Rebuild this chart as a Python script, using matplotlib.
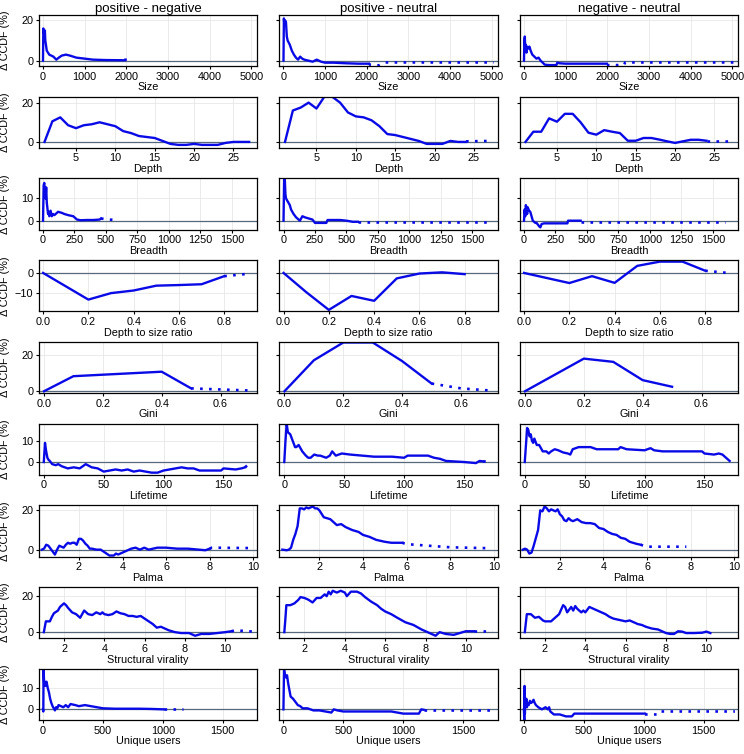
import matplotlib
matplotlib.use("Agg")
import matplotlib.pyplot as plt

plt.rcParams['font.family'] = ['Liberation Sans', 'DejaVu Sans']

comparisons = ["positive - negative", "positive - neutral", "negative - neutral"]
metrics = ["Size", "Depth", "Breadth", "Depth to size ratio", "Gini",
           "Lifetime", "Palma", "Structural virality", "Unique users"]

# --- Size ---
size_pn = [(0, 0), (8, 16), (15, 14), (25, 15), (35, 12), (45, 15), (55, 10), (70, 8),
           (90, 5), (120, 4), (150, 3), (200, 2.5), (250, 2), (320, 0.5), (380, 1.5),
           (450, 2.5), (550, 3), (650, 2.5), (800, 1.5), (1000, 1), (1200, 0.5),
           (1500, 0.3), (1950, 0.2)]
size_pn_dot = [(1950, 0.4), (2060, 0.6)]
size_pu = [(0, 0), (10, 21), (20, 18), (40, 20), (60, 19), (80, 12), (100, 10), (150, 8),
           (200, 5), (250, 3), (300, 1.5), (350, 0.5), (400, 2), (450, 1), (500, 0.5),
           (600, 0), (700, -0.5), (800, 0.5), (900, -0.5), (1000, -1), (1200, -1),
           (1500, -1.3), (1800, -1.5), (2050, -1.5)]
size_pu_dot = [(2050, -1.5), (2100, -2.3), (2300, -2.3), (2450, -0.9), (3500, -0.9),
               (5050, -0.9)]
size_nu = [(0, 0), (10, 10), (20, 12), (30, 6), (40, 8), (60, 4), (80, 7), (100, 6),
           (130, 7), (160, 5), (200, 3), (250, 2), (300, 1), (350, 1.5), (400, 0),
           (450, -1), (500, -2), (600, -2.2), (780, -2.2), (800, -1), (850, -1.3),
           (1000, -1.5), (1500, -1.5), (1990, -1.5)]
size_nu_dot = [(1990, -2.2), (2400, -2.2), (2430, -0.9), (5050, -0.9)]

# --- Depth ---
depth_pn = [(1, 0), (2, 10.5), (3, 12.5), (4, 8.5), (5, 7), (6, 8.5), (7, 9), (8, 10),
            (9, 9), (10, 8), (11, 5.5), (12, 4.5), (13, 3), (14, 2.5), (15, 2), (16, 0.5),
            (17, -1), (18, -1.5), (19, -1.5), (20, -1), (21, -1.5), (22, -1.5),
            (23, -1.5), (24, -0.5), (25, 0), (26, 0), (27, 0)]
depth_pn_dot = []
depth_pu = [(1, 0), (2, 16), (3, 17.5), (4, 20), (5, 17), (6, 23), (7, 23), (8, 20),
            (9, 15), (10, 13), (11, 12.5), (12, 11), (13, 8), (14, 4), (15, 3.5),
            (16, 2.5), (17, 1.5), (18, 0.5), (19, -1), (20, -1), (21, -1), (22, 0.5),
            (23, 0), (24, 0)]
depth_pu_dot = [(24, 0.3), (27, 0.5)]
depth_nu = [(1, 0), (2, 5.2), (3, 5.2), (4, 12), (5, 10.3), (6, 14.3), (7, 14.3),
            (8, 10), (9, 4.7), (10, 3.7), (11, 6), (12, 5.2), (13, 4.5), (14, 0.6),
            (15, 0.6), (16, 2), (17, 2), (18, 1.2), (19, 0.3), (20, -0.5), (21, 0.3),
            (22, 1.1), (23, 1.1), (24, 0.6)]
depth_nu_dot = [(24, 0.6), (27, 0.6)]

# --- Breadth ---
breadth_pn = [(0, 0), (5, 16), (10, 17), (15, 12), (20, 10), (25, 15), (30, 8), (40, 3),
              (45, 4), (50, 2), (60, 4.5), (70, 2), (80, 3), (90, 2.5), (100, 3),
              (120, 4), (150, 3.5), (170, 3), (200, 2.5), (240, 2), (270, 0.5),
              (300, 0.2), (350, 0.3), (400, 0.3), (450, 0.5), (460, 1)]
breadth_pn_dot = [(460, 1), (500, 0.6), (580, 0.3)]
breadth_pu = [(0, 0), (5, 19), (10, 19), (15, 12), (20, 10), (30, 9), (40, 8), (50, 7),
              (60, 5), (80, 3), (100, 1.5), (120, 0.5), (130, 0), (150, 2), (170, 1.5),
              (200, 1), (230, 0.5), (250, -1), (300, -1), (340, -1), (350, 0.3),
              (400, 0.3), (450, 0.3), (500, 0), (550, -0.5), (590, -0.5)]
breadth_pu_dot = [(590, -0.5), (1620, -0.5)]
breadth_nu = [(0, 0), (5, 5), (10, 2), (15, 7), (20, 5), (25, 3), (30, 6), (40, 4.5),
              (50, 4), (60, 2), (70, 0), (80, -0.5), (90, -1), (100, -1), (120, -2.5),
              (130, -3), (140, -1.5), (160, -1.2), (250, -1.2), (345, -1.2), (350, 0),
              (450, 0)]
breadth_nu_dot = [(450, -0.5), (1600, -0.5)]

# --- Depth to size ratio ---
dsr_pn = [(0, 0), (0.2, -13.2), (0.3, -10), (0.4, -8.7), (0.5, -6.3), (0.6, -6),
          (0.7, -5.6), (0.8, -1.6)]
dsr_pn_dot = [(0.8, -1.6), (0.9, -0.5)]
dsr_pu = [(0, 0), (0.1, -9.5), (0.2, -18.3), (0.3, -11.4), (0.4, -13.8), (0.5, -2.7),
          (0.6, -0.3), (0.7, 0.3), (0.8, -0.6)]
dsr_pu_dot = []
dsr_nu = [(0, 0), (0.2, -5), (0.3, -1.6), (0.4, -4.9), (0.5, 3.5), (0.6, 5.6),
          (0.7, 5.6), (0.8, 1.1)]
dsr_nu_dot = [(0.8, 1.1), (0.9, 0)]

# --- Gini ---
gini_pn = [(0, 0), (0.1, 8.4), (0.4, 10.9), (0.5, 1.6)]
gini_pn_dot = [(0.5, 1.6), (0.7, 0.4)]
gini_pu = [(0, 0), (0.1, 17.3), (0.2, 27.2), (0.3, 27.2), (0.4, 16.8), (0.5, 4.3)]
gini_pu_dot = [(0.5, 4.3), (0.6, 1.6), (0.7, 0.4)]
gini_nu = [(0, 0), (0.2, 18.2), (0.3, 16.4), (0.4, 6.2), (0.5, 2.5)]
gini_nu_dot = []

# --- Lifetime ---
life_pn = [(0, 0), (1, 9), (2, 5), (3, 2), (4, 1), (5, 0.5), (7, -1), (10, -1.5),
           (12, -1), (15, -2), (20, -3), (25, -2.5), (30, -3), (35, -1), (40, -2.5),
           (45, -3), (50, -4.5), (55, -4), (60, -3.5), (65, -4), (70, -3.5), (75, -4.5),
           (80, -4), (90, -5), (95, -5), (100, -4), (105, -3.5), (110, -3), (115, -2.5),
           (120, -3), (125, -3), (130, -4), (148, -4), (150, -3), (160, -3.5),
           (165, -3), (168, -2.5)]
life_pn_dot = [(168, -2.5), (172, -0.5)]
life_pu = [(0, 0), (1, 10), (2, 18), (3, 14), (5, 13), (7, 10), (9, 7), (10, 7),
           (12, 8), (15, 5), (18, 3), (20, 2), (22, 2), (25, 3.5), (28, 3), (30, 3),
           (35, 2), (38, 3), (40, 5), (43, 3), (48, 4), (55, 3.5), (65, 3), (75, 2.5),
           (90, 2.5), (100, 2), (103, 3), (120, 3), (125, 2), (130, 1.5), (135, 0.5),
           (150, 0), (160, -0.5), (163, 0.5), (166, 0.3)]
life_pu_dot = [(166, 0.3), (172, 0)]
life_nu = [(0, 0), (1, 8), (2, 16), (3, 15), (4, 12), (5, 13), (6, 10), (7, 9),
           (8, 11), (10, 8), (12, 8), (15, 5), (18, 5), (20, 4), (22, 5), (25, 6),
           (28, 5.5), (32, 4.5), (36, 4), (38, 3.5), (40, 6), (45, 7), (55, 7),
           (60, 6), (78, 6), (80, 7), (85, 6), (100, 5.5), (105, 6.5), (108, 5.5),
           (115, 5), (148, 5), (150, 4), (158, 3.5), (162, 4), (165, 3.5), (168, 2),
           (171, 0.5)]
life_nu_dot = []

# --- Palma ---
palma_pn = [(0.3, 0), (0.4, 0.5), (0.5, 2.5), (0.6, 2), (0.7, 0.5), (0.8, -1),
            (0.9, -2.5), (1.0, 0), (1.1, 2), (1.2, 1.5), (1.3, 1), (1.4, 2.5),
            (1.5, 3.5), (1.6, 3), (1.7, 3.5), (1.8, 3.5), (1.9, 2.5), (2.0, 5.5),
            (2.1, 5.5), (2.2, 4.5), (2.3, 3), (2.4, 2), (2.5, 0.5), (2.6, 0.5),
            (2.8, 0), (3.0, 0), (3.2, -1.5), (3.4, -3), (3.6, -3), (3.7, -2),
            (3.8, -2.5), (4.0, -1.5), (4.2, -0.5), (4.4, 0.5), (4.6, 1), (4.8, 0),
            (5.0, 1), (5.2, 0), (5.4, 0.5), (5.6, 1), (6.0, 1), (6.5, 0.5), (7.0, 0.5),
            (7.5, 0), (7.8, -0.3), (8.0, 0.5)]
palma_pn_dot = [(8.0, 0.5), (8.1, 1), (9.9, 0.8)]
palma_pu = [(0.3, 0), (0.5, -0.3), (0.6, 0), (0.7, 1), (0.8, 5), (0.9, 8), (1.0, 12),
            (1.1, 21), (1.2, 21), (1.3, 20.5), (1.4, 21.5), (1.5, 21), (1.6, 21.5),
            (1.7, 22), (1.8, 21), (1.9, 21), (2.0, 20), (2.2, 16.5), (2.5, 15.5),
            (2.8, 12.5), (3.0, 13), (3.2, 11.5), (3.5, 10), (3.8, 9), (4.0, 7.5),
            (4.3, 6.5), (4.6, 5), (5.0, 4), (5.3, 3.5), (5.8, 3.5)]
palma_pu_dot = [(5.8, 3.5), (6.0, 2.8), (7.0, 2), (8.0, 1.2), (9.9, 0.7)]
palma_nu = [(0.3, 0), (0.4, 0.5), (0.5, 0), (0.6, -2), (0.7, -1.5), (0.8, 2), (0.9, 6),
            (1.0, 10), (1.1, 20), (1.2, 19.5), (1.3, 22), (1.4, 21), (1.5, 19.5),
            (1.6, 20.5), (1.7, 20), (1.8, 19.5), (1.9, 20.5), (2.0, 18), (2.1, 17),
            (2.2, 15), (2.3, 14.5), (2.4, 16), (2.5, 15), (2.6, 14.5), (2.8, 15.5),
            (3.0, 14), (3.2, 13.5), (3.4, 13.5), (3.6, 13), (3.8, 11), (4.0, 10.5),
            (4.2, 9), (4.4, 8), (4.6, 7.5), (4.8, 6), (5.0, 5.5), (5.2, 4), (5.5, 3),
            (5.7, 2.5)]
palma_nu_dot = [(5.7, 2.5), (6.0, 1.5), (7.8, 1.5)]

# --- Structural virality ---
sv_pn = [(1.0, 0), (1.05, 3), (1.1, 6), (1.3, 6), (1.4, 8.5), (1.5, 10.5), (1.7, 12),
         (1.8, 14), (2.0, 16), (2.1, 15), (2.2, 13.5), (2.4, 11), (2.6, 10), (2.8, 8),
         (3.0, 12), (3.2, 10), (3.4, 9.5), (3.6, 11), (3.8, 10), (3.9, 11), (4.0, 10),
         (4.2, 9.5), (4.4, 10), (4.6, 11.5), (4.8, 10.5), (5.0, 10), (5.2, 9),
         (5.4, 9), (5.6, 8.5), (5.8, 9), (6.0, 7.5), (6.2, 6), (6.4, 4.5), (6.6, 2.5),
         (6.8, 3), (7.0, 2), (7.2, 1), (7.5, 0), (7.8, -0.5), (8.2, -0.5), (8.5, -2),
         (8.8, -1), (9.2, -1), (9.6, -0.5), (10.0, 0), (10.3, 0.5)]
sv_pn_dot = [(10.3, 0.5), (10.5, 1), (11.4, 0.3)]
sv_pu = [(1.0, 0), (1.05, 7), (1.1, 15), (1.3, 15), (1.5, 16), (1.7, 18), (1.8, 19.5),
         (2.0, 19), (2.2, 18), (2.4, 16.5), (2.6, 19), (2.8, 19), (3.0, 21), (3.1, 20),
         (3.2, 22.5), (3.3, 21), (3.4, 23), (3.6, 22), (3.8, 23), (4.0, 22), (4.1, 20),
         (4.3, 22.5), (4.6, 22.5), (4.8, 21.5), (5.0, 19.5), (5.3, 17), (5.6, 15),
         (5.8, 13), (6.0, 11.5), (6.3, 10), (6.6, 8), (7.0, 5.5), (7.4, 4), (7.8, 1.5),
         (8.1, 0), (8.5, -2), (8.7, 0), (9.0, -1), (9.4, -1.5), (9.7, -0.5),
         (10.0, 0.5), (10.4, 0.5)]
sv_pu_dot = [(10.4, 0.5), (11.3, 0.5)]
sv_nu = [(1.0, 0), (1.05, 5), (1.1, 10), (1.3, 10), (1.5, 8), (1.7, 8.5), (1.9, 6.5),
         (2.0, 6), (2.3, 6), (2.5, 8), (2.7, 10), (2.9, 15), (3.0, 14), (3.1, 11),
         (3.3, 14), (3.4, 12), (3.5, 14.5), (3.6, 13), (3.8, 11), (3.9, 12), (4.0, 11),
         (4.2, 14), (4.4, 13), (4.6, 12), (4.8, 11), (5.0, 10), (5.2, 8.5), (5.4, 7.5),
         (5.6, 7), (5.8, 6.5), (6.0, 6), (6.2, 6.5), (6.4, 5.5), (6.6, 4.5), (6.8, 4),
         (7.0, 3), (7.3, 2), (7.6, 1.5), (8.0, -0.5), (8.2, -1), (8.4, -1), (8.6, 0.5),
         (8.8, 0.3), (9.0, -0.5), (9.4, -0.5), (9.8, -0.3), (10.0, 0.3), (10.2, -0.5)]
sv_nu_dot = []

# --- Unique users ---
users_pn = [(0, 0), (3, -1), (5, 19), (10, 12), (15, 13), (20, 11), (25, 12), (30, 13),
            (40, 10), (50, 8), (60, 5), (70, 3), (80, 1.5), (90, 0.5), (100, -0.5),
            (110, 1), (120, 0.5), (130, 2), (150, 1.5), (170, 1), (190, 2), (210, 1),
            (230, 2.5), (270, 2), (300, 1.5), (350, 2), (400, 1.5), (450, 1), (500, 0.5),
            (600, 0.3), (800, 0.3), (900, 0.2), (1010, 0)]
users_pn_dot = [(1010, 0.3), (1170, 0.3)]
users_pu = [(0, 0), (5, 19), (10, 17), (20, 15), (30, 16), (40, 12), (50, 9), (60, 6),
            (80, 5), (100, 3.5), (120, 2), (140, 1.5), (160, 0.5), (200, 0.5),
            (250, -0.5), (300, -0.5), (350, -1), (400, -1.5), (420, 0), (450, -0.5),
            (500, -1), (900, -1), (1000, -2), (1130, -2), (1150, 0), (1170, -0.2)]
users_pu_dot = [(1170, -0.2), (1760, -0.2)]
users_nu = [(0, 0), (3, -5), (5, 11), (8, -2), (10, 4), (15, 2), (20, 5), (25, 1),
            (30, 3), (40, 2), (50, 4), (60, 3), (70, 3.5), (80, 4.5), (90, 3), (100, 2),
            (120, 1), (150, 0), (180, 1), (200, 0), (210, 1), (220, -1), (250, -2.4),
            (300, -2.4), (350, -3.3), (400, -3.3), (420, -2), (1010, -2)]
users_nu_dot = [(1010, -2.4), (1120, -2.4), (1140, -1), (1760, -1)]

panels = [
    [(size_pn, size_pn_dot), (size_pu, size_pu_dot), (size_nu, size_nu_dot)],
    [(depth_pn, depth_pn_dot), (depth_pu, depth_pu_dot), (depth_nu, depth_nu_dot)],
    [(breadth_pn, breadth_pn_dot), (breadth_pu, breadth_pu_dot), (breadth_nu, breadth_nu_dot)],
    [(dsr_pn, dsr_pn_dot), (dsr_pu, dsr_pu_dot), (dsr_nu, dsr_nu_dot)],
    [(gini_pn, gini_pn_dot), (gini_pu, gini_pu_dot), (gini_nu, gini_nu_dot)],
    [(life_pn, life_pn_dot), (life_pu, life_pu_dot), (life_nu, life_nu_dot)],
    [(palma_pn, palma_pn_dot), (palma_pu, palma_pu_dot), (palma_nu, palma_nu_dot)],
    [(sv_pn, sv_pn_dot), (sv_pu, sv_pu_dot), (sv_nu, sv_nu_dot)],
    [(users_pn, users_pn_dot), (users_pu, users_pu_dot), (users_nu, users_nu_dot)],
]

xlims = [(-96, 5140), (0.3, 28.0), (-32, 1700), (-0.018, 0.945), (-0.017, 0.724),
         (-4, 178), (0.17, 10.17), (0.76, 11.57), (-33, 1786)]
xticks = [range(0, 5001, 1000), range(5, 26, 5), range(0, 1501, 250),
          [0, 0.2, 0.4, 0.6, 0.8], [0, 0.2, 0.4, 0.6], [0, 50, 100, 150],
          [2, 4, 6, 8, 10], [2, 4, 6, 8, 10], [0, 500, 1000, 1500]]
xfmt = [None, None, None, "%.1f", "%.1f", None, None, None, None]
ylims = [(-2.7, 22.7), (-3, 23), (-4, 19), (-19, 6.3), (-1, 27.5), (-6, 18),
         (-3.5, 22.5), (-3.4, 25), (-5, 19)]
yticks = [[0, 20], [0, 20], [0, 10], [-10, 0], [0, 20], [0, 10], [0, 20], [0, 20], [0, 10]]

blue = '#0a0ae6'

fig = plt.figure(figsize=(7.44, 7.54), dpi=100)
gs = fig.add_gridspec(9, 3, left=39/744, right=738/744, top=1-15/754, bottom=1-720/754,
                      hspace=0.6, wspace=0.103)

for r in range(9):
    for c in range(3):
        ax = fig.add_subplot(gs[r, c])
        solid, dotted = panels[r][c]
        ax.grid(True, color='#e8e8e8', lw=0.6)
        ax.axhline(0, color='#56687a', lw=0.9, zorder=1.8)
        ax.plot([p[0] for p in solid], [p[1] for p in solid], color=blue, lw=1.7, zorder=2)
        if dotted:
            ax.plot([p[0] for p in dotted], [p[1] for p in dotted], color=blue, lw=1.9,
                    ls=(0, (1, 2.4)), zorder=2)
        ax.set_xlim(xlims[r])
        ax.set_ylim(ylims[r])
        ax.set_xticks(list(xticks[r]))
        if xfmt[r]:
            ax.set_xticklabels([xfmt[r] % t for t in xticks[r]])
        ax.set_yticks(yticks[r])
        ax.tick_params(direction='out', length=2.5, width=0.8, labelsize=7.8, pad=1.5)
        for s in ax.spines.values():
            s.set_linewidth(0.9)
        ax.set_xlabel(metrics[r], fontsize=7.8, labelpad=0.5)
        if c == 0:
            ax.set_ylabel("Δ CCDF (%)", fontsize=7.8)
            ax.yaxis.set_label_coords(-0.135, 0.5)
        else:
            ax.set_yticklabels([])
        if r == 0:
            ax.set_title(comparisons[c], fontsize=9.5, pad=2.5)

fig.savefig("out.png", dpi=100)
